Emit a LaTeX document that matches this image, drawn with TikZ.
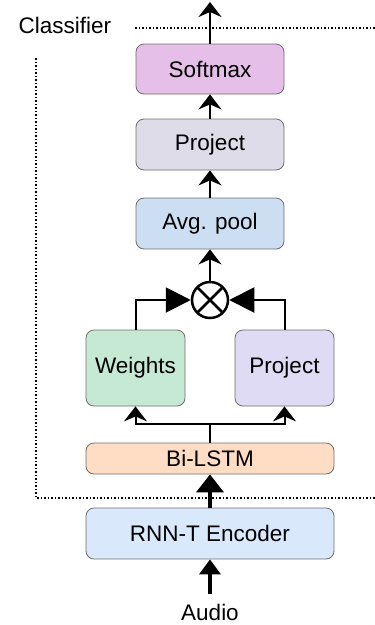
\documentclass[tikz,border=0pt]{standalone}
\usepackage{fontspec}
\setmainfont{Liberation Sans}
\usetikzlibrary{arrows.meta}
\definecolor{boxline}{HTML}{6E6E6E}
\definecolor{softmaxc}{HTML}{E6BFE8}
\definecolor{projc}{HTML}{DEDCE8}
\definecolor{poolc}{HTML}{CCDEF2}
\definecolor{weightc}{HTML}{C5E9D3}
\definecolor{projbc}{HTML}{E0DBF5}
\definecolor{lstmc}{HTML}{FFDDC4}
\definecolor{encc}{HTML}{DAE8FC}
\tikzset{node distance=2.5cm, auto,
  txt/.style={font=\fontsize{22.5}{27}\selectfont},
  block/.style={txt, draw=boxline, line width=0.8pt, rounded corners=8pt, inner sep=0pt},
  arr/.style={line width=2pt, -{Stealth[length=15pt, width=23pt, inset=5pt]}},
  bigarr/.style={line width=2pt, -{Triangle[length=25pt, width=25pt]}},
  fatarr/.style={line width=4pt, -{Triangle[length=18pt, width=27pt]}},
  border/.style={line width=1.5pt, dotted}}

\begin{document}
\begin{tikzpicture}[x=1pt, y=-1pt]
  \useasboundingbox (0,0) rectangle (375,625);
  % classifier frame
  \node[txt, anchor=base west] (cls) at (15,33) {Classifier};
  \draw[border] (135,28) -- (375,28);
  \draw[border] (36,58) -- (36,498) -- (375,498);
  % encoder side
  \node[txt, anchor=base] (audio) at (210,620) {Audio};
  \node[block, fill=encc, minimum width=248pt, minimum height=51pt] (enc) at (210,533.5) {RNN-T Encoder};
  \node[block, fill=lstmc, minimum width=248pt, minimum height=31pt] (lstm) at (210,458.5) {Bi-LSTM};
  % attention branch
  \node[block, fill=weightc, minimum width=99pt, minimum height=76pt] (weights) at (135.5,368) {Weights};
  \node[block, fill=projbc, minimum width=99pt, minimum height=76pt] (projb) at (284.5,368) {Project};
  \node[circle, draw, line width=2.5pt, minimum size=36pt, inner sep=0pt,
        path picture={\draw[line width=2.5pt] (path picture bounding box.south west) -- (path picture bounding box.north east)
                        (path picture bounding box.north west) -- (path picture bounding box.south east);}] (mul) at (210,300) {};
  \node[block, fill=poolc, minimum width=148pt, minimum height=51pt] (pool) at (210,223.5) {Avg. pool};
  \node[block, fill=projc, minimum width=148pt, minimum height=51pt] (proj) at (210,144.5) {Project};
  \node[block, fill=softmaxc, minimum width=148pt, minimum height=50pt] (softmax) at (210,69) {Softmax};
  \coordinate (split) at (210,424);
  \coordinate (out) at (210,2);

  \draw[line width=4pt, -{Triangle[length=15pt, width=21pt]}] (210,594) -- (enc);
  \draw[fatarr] (enc) -- (lstm);
  \draw[line width=2pt] (lstm) -- (split);
  \draw[arr] (split) -| (weights);
  \draw[arr] (split) -| (projb);
  \draw[bigarr] (weights.north) |- (mul);
  \draw[bigarr] (projb.north) |- (mul);
  \draw[arr] (mul) -- (pool);
  \draw[arr] (pool) -- (proj);
  \draw[arr] (proj) -- (softmax);
  \draw[arr] (softmax) -- (out);
\end{tikzpicture}
\end{document}
